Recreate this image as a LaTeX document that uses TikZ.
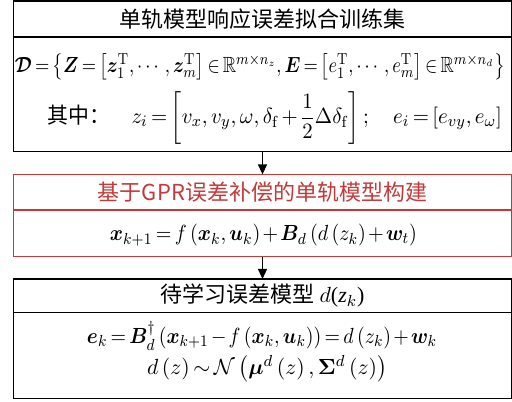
\documentclass[tikz,border=0pt]{standalone}
\usepackage{amsmath,amssymb}
\usepackage{bm}
\usepackage{graphicx}
\usepackage[no-math]{fontspec}
\setmainfont{Liberation Serif}
\newfontfamily\cjk{Noto Sans CJK SC}
\usetikzlibrary{arrows.meta}
\definecolor{gprred}{RGB}{196,58,58}
% squeeze one formula line to the width it has in the figure
\newcommand{\fitline}[2]{\resizebox{#1}{\height}{#2}}

\begin{document}
\begin{tikzpicture}[>={Triangle[width=4.5pt,length=5pt]},
    box/.style={draw, line width=0.7pt, minimum width=249pt, inner sep=0pt, outer sep=0pt},
    redbox/.style={box, draw=gprred, line width=0.6pt},
    head/.style={font=\cjk\fontsize{11}{13}\selectfont},
    eq/.style={inner sep=0pt, font={\fontsize{11}{13}\selectfont\thickmuskip=3mu\medmuskip=2mu}}]
    \useasboundingbox (0,0) rectangle (256pt,200.5pt);

    % Training set box
    \node[box, head, minimum height=18pt] (t1) at (131.25pt,191pt) {单轨模型响应误差拟合训练集};
    \node[box, minimum height=57.35pt] (b1) at (131.25pt,153.3pt) {};
    \node[eq] (l11) at (130pt,167pt)
        {\fitline{245pt}{$\bm{\mathcal{D}}=\left\{\bm{Z}=\left[\bm{z}_1^{\mathrm{T}},\cdots,\bm{z}_m^{\mathrm{T}}\right]\in\mathbb{R}^{m\times n_z},\bm{E}=\left[e_1^{\mathrm{T}},\cdots,e_m^{\mathrm{T}}\right]\in\mathbb{R}^{m\times n_d}\right\}$}};
    \node[eq] (l12) at (137.5pt,141.5pt)
        {\fitline{227pt}{{\cjk 其中：}\quad $z_i=\left[v_x,v_y,\omega,\delta_{\mathrm{f}}+\dfrac{1}{2}\Delta\delta_{\mathrm{f}}\right];\quad e_i=\left[e_{vy},e_\omega\right]$}};

    % GPR compensated model box
    \node[redbox, head, minimum height=17.85pt, text=gprred] (t2) at (131.25pt,104.4pt) {基于GPR误差补偿的单轨模型构建};
    \node[redbox, minimum height=23.35pt] (b2) at (131.25pt,83.8pt) {};
    \node[eq] (l21) at (131.75pt,83pt)
        {\fitline{153.5pt}{$\bm{x}_{k+1}=f\left(\bm{x}_k,\bm{u}_k\right)+\bm{B}_d\left(d\left(z_k\right)+\bm{w}_t\right)$}};

    % Error model box
    \node[box, head, minimum height=16.85pt] (t3) at (131.25pt,52.6pt) {待学习误差模型 {\rmfamily$d$(\textit{z}$_k$)}};
    \node[box, minimum height=42.8pt] (b3) at (131.25pt,22.75pt) {};
    \node[eq] (l31) at (131pt,32.5pt)
        {\fitline{175pt}{$\bm{e}_k=\bm{B}_d^{\dagger}\left(\bm{x}_{k+1}-f\left(\bm{x}_k,\bm{u}_k\right)\right)=d\left(z_k\right)+\bm{w}_k$}};
    \node[eq] (l32) at (133.5pt,16pt)
        {\fitline{120pt}{$d\left(z\right)\sim\mathcal{N}\left(\bm{\mu}^d\left(z\right),\bm{\Sigma}^d\left(z\right)\right)$}};

    % Arrows
    \draw[->, line width=0.7pt] (b1) -- (t2);
    \draw[->, line width=0.7pt] (b2) -- (t3);
\end{tikzpicture}
\end{document}
